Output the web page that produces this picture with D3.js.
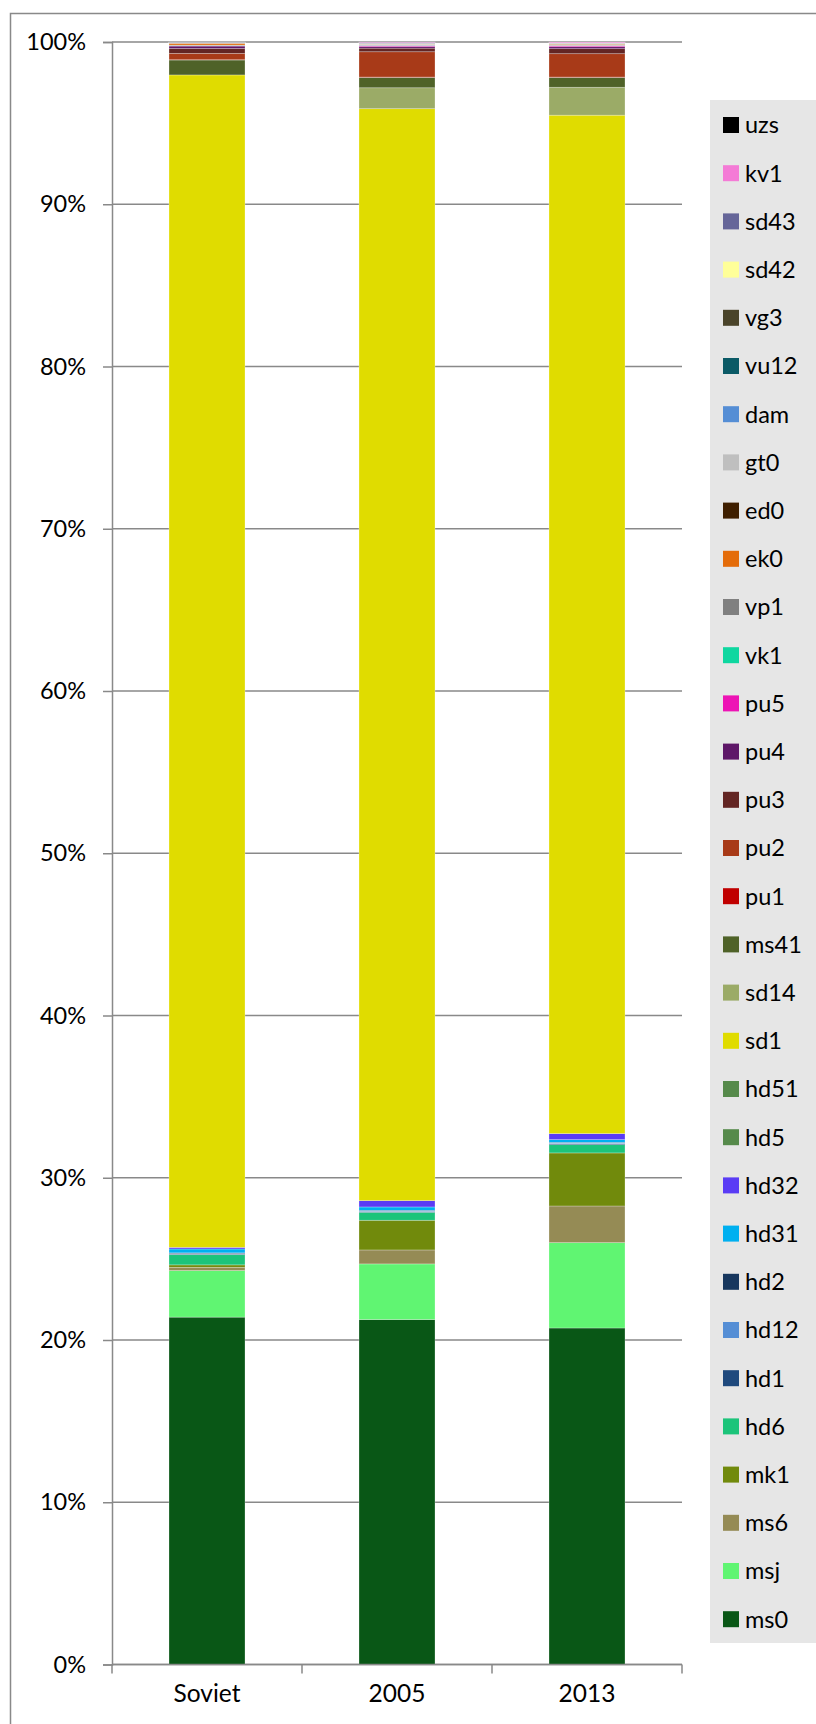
<!DOCTYPE html>
<html>
<head>
<meta charset="utf-8">
<script src="https://cdn.jsdelivr.net/npm/d3@7"></script>
<style>
  html, body { margin: 0; padding: 0; background: #fff; }
  svg { display: block; }
  text { font-family: Lato, "Open Sans", sans-serif; fill: #000; }
</style>
</head>
<body>
<svg id="chart" width="816" height="1724"></svg>
<script>
// Land-use shares per category, stacked bottom to top in this order
const categories = ["Soviet", "2005", "2013"];

const seriesNames = ["ms0", "msj", "ms6", "mk1", "hd6", "hd1", "hd12", "hd2", "hd31", "hd32",
  "hd5", "hd51", "sd1", "sd14", "ms41", "pu1", "pu2", "pu3", "pu4", "pu5", "vk1", "vp1",
  "ek0", "ed0", "gt0", "dam", "vu12", "vg3", "sd42", "sd43", "kv1", "uzs"];

const seriesColors = ["#095716", "#60F572", "#958B55", "#718A0C", "#1CC47A", "#1F497D", "#558ED5", "#17375E", "#00B0F0", "#5A3CF5",
  "#568A4B", "#568A4B", "#E0DC00", "#9BAB67", "#4F6228", "#C00000", "#A83A18", "#632523", "#5E1768", "#ED14B5", "#0FD7A0", "#808080",
  "#E46C0A", "#3F1F00", "#BFBFBF", "#558ED5", "#0B5A66", "#4A442A", "#FFFF99", "#666699", "#F47BD6", "#000000"];

// percent values, same order as seriesNames
const valuesSoviet = [21.41, 2.87, 0.20, 0.15, 0.63, 0.04, 0.03, 0.04, 0.24, 0.10,
  0, 0, 72.26, 0, 0.92, 0.02, 0.39, 0.30, 0.15, 0.02, 0.02, 0.02,
  0.11, 0.01, 0.02, 0.01, 0.01, 0.01, 0, 0.02, 0, 0];
const values2005 = [21.26, 3.43, 0.86, 1.83, 0.49, 0.05, 0.03, 0.04, 0.21, 0.39,
  0, 0, 67.30, 1.29, 0.64, 0.02, 1.56, 0.22, 0.10, 0.06, 0.02, 0.02,
  0.03, 0.01, 0.02, 0.01, 0.01, 0.01, 0.01, 0.05, 0.03, 0];
const values2013 = [20.74, 5.26, 2.26, 3.27, 0.51, 0.06, 0.04, 0.04, 0.17, 0.37,
  0, 0, 62.77, 1.72, 0.61, 0.02, 1.44, 0.31, 0.12, 0.06, 0.02, 0.02,
  0.05, 0.01, 0.02, 0.01, 0.01, 0.01, 0.01, 0.02, 0.05, 0];

const yTicks = [0, 0.1, 0.2, 0.3, 0.4, 0.5, 0.6, 0.7, 0.8, 0.9, 1.0];

// Build rows for d3.stack
const columns = [valuesSoviet, values2005, values2013];
const rows = categories.map((c, i) => {
  const r = { category: c };
  seriesNames.forEach((s, j) => { r[s] = columns[i][j]; });
  return r;
});

const svg = d3.select("#chart");
const plot = { left: 112, right: 682, top: 42, bottom: 1664.5 };
const gridColor = "#898989";

// outer frame
svg.append("rect")
  .attr("x", 10.5).attr("y", 13.5)
  .attr("width", 900).attr("height", 1800)
  .attr("fill", "none").attr("stroke", gridColor).attr("stroke-width", 1.5);

const x = d3.scaleBand()
  .domain(categories)
  .range([plot.left, plot.right])
  .paddingInner(0.6)
  .paddingOuter(0.3);

const y = d3.scaleLinear().domain([0, 1]).range([plot.bottom, plot.top]);

// gridlines
svg.append("g")
  .selectAll("line")
  .data(yTicks)
  .join("line")
  .attr("x1", plot.left).attr("x2", plot.right)
  .attr("y1", d => y(d)).attr("y2", d => y(d))
  .attr("stroke", gridColor).attr("stroke-width", 1.5);

// y axis
const yAxis = svg.append("g")
  .attr("transform", `translate(${plot.left},0)`)
  .call(d3.axisLeft(y).tickValues(yTicks).tickFormat(d3.format(".0%")).tickSize(9).tickPadding(17));
yAxis.select(".domain").attr("stroke", gridColor).attr("stroke-width", 1.5);
yAxis.selectAll(".tick line").attr("stroke", gridColor).attr("stroke-width", 1.5);
yAxis.selectAll(".tick text")
  .attr("font-size", 23.5)
  .attr("font-family", "Lato, 'Open Sans', sans-serif")
  .attr("fill", "#000");

// stacked bars
const stacked = d3.stack().keys(seriesNames).offset(d3.stackOffsetExpand)(rows);
const color = d3.scaleOrdinal().domain(seriesNames).range(seriesColors);

svg.append("g")
  .selectAll("g")
  .data(stacked)
  .join("g")
  .attr("fill", d => color(d.key))
  .selectAll("rect")
  .data(d => d)
  .join("rect")
  .attr("x", d => x(d.data.category))
  .attr("width", x.bandwidth())
  .attr("y", d => y(d[1]))
  .attr("height", d => Math.max(0, y(d[0]) - y(d[1])))
  .attr("stroke", "rgba(255,255,255,0.35)")
  .attr("stroke-width", 0.75);

// x axis with ticks between categories
const xAxisG = svg.append("g");
xAxisG.append("line")
  .attr("x1", plot.left).attr("x2", plot.right)
  .attr("y1", plot.bottom).attr("y2", plot.bottom)
  .attr("stroke", gridColor).attr("stroke-width", 1.5);
const step = x.step();
const boundaries = [plot.left].concat(categories.map(c => x(c) + x.bandwidth() + (step - x.bandwidth()) / 2));
xAxisG.selectAll("line.tick")
  .data(boundaries)
  .join("line")
  .attr("class", "tick")
  .attr("x1", d => d).attr("x2", d => d)
  .attr("y1", plot.bottom).attr("y2", plot.bottom + 9)
  .attr("stroke", gridColor).attr("stroke-width", 1.5);
xAxisG.selectAll("text")
  .data(categories)
  .join("text")
  .attr("x", d => x(d) + x.bandwidth() / 2)
  .attr("y", plot.bottom + 37)
  .attr("text-anchor", "middle")
  .attr("font-size", 24.5)
  .text(d => d);

// legend, top entry is the top of the stack
const legend = svg.append("g");
legend.append("rect")
  .attr("x", 710).attr("y", 100)
  .attr("width", 120).attr("height", 1543)
  .attr("fill", "#E6E6E6");
const legendItems = seriesNames.slice().reverse();
const ly = d3.scalePoint().domain(legendItems).range([125, 1619.2]);
const li = legend.selectAll("g.item")
  .data(legendItems)
  .join("g")
  .attr("class", "item")
  .attr("transform", d => `translate(723,${ly(d)})`);
li.append("rect")
  .attr("x", 0).attr("y", -8)
  .attr("width", 16).attr("height", 16)
  .attr("fill", d => color(d));
li.append("text")
  .attr("x", 22).attr("y", 0)
  .attr("dy", "0.36em")
  .attr("font-size", 23.5)
  .text(d => d);
</script>
</body>
</html>
